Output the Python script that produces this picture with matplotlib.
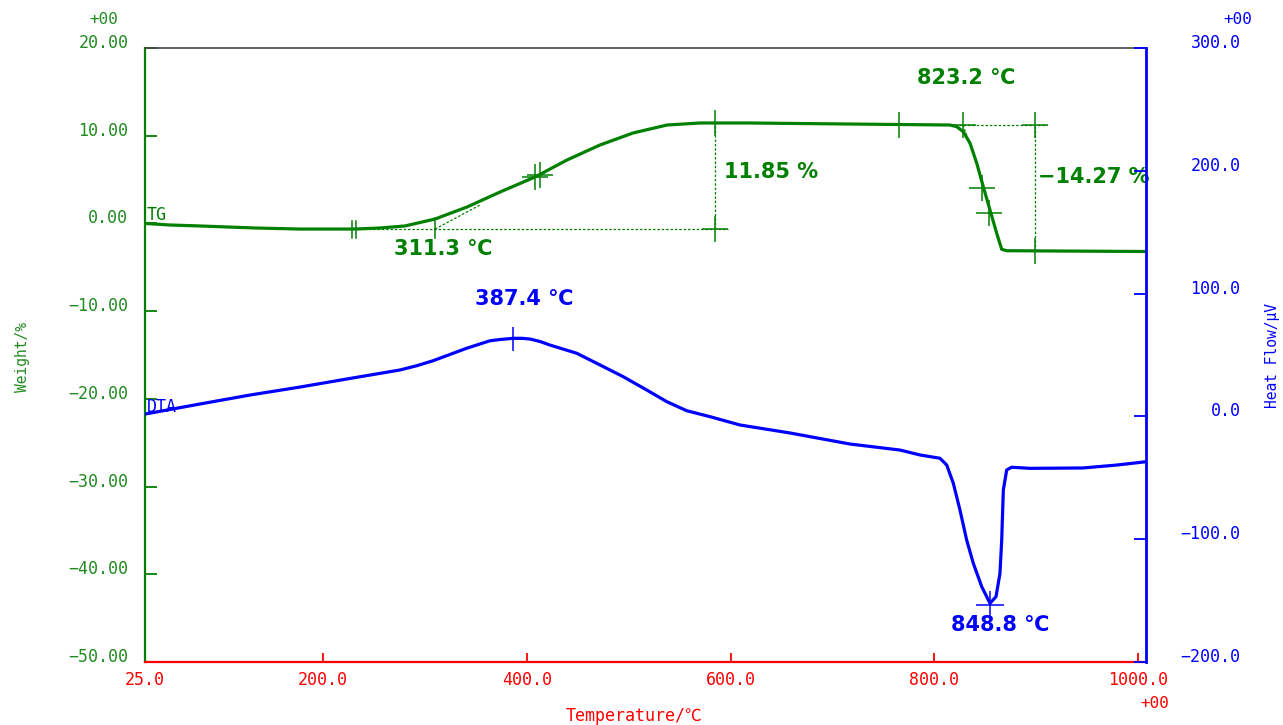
import matplotlib
matplotlib.use('Agg')
import matplotlib.pyplot as plt
from matplotlib.ticker import FuncFormatter

# TG curve (temperature / weight %)
tg_temp = [25, 49.6, 79, 133, 177.2, 231.2, 255.8, 280.3, 309.8, 341.2, 373.6, 408,
           439.4, 471.8, 504.2, 537.6, 570, 584.7, 619, 710.4, 815.5, 822.1, 828.6,
           835.2, 841.8, 848.2, 854.8, 861.4, 866.3, 871.2, 913.7, 1008]
tg_weight = [0.0, -0.18, -0.29, -0.52, -0.64, -0.64, -0.52, -0.29, 0.5, 1.87, 3.58, 5.29,
             7.23, 8.94, 10.31, 11.22, 11.45, 11.45, 11.45, 11.34, 11.22, 11.03, 10.46,
             9.14, 6.86, 4.19, 1.53, -1.13, -2.95, -3.11, -3.14, -3.2]

# DTA curve (temperature / heat flow uV)
dta_temp = [25, 79, 128.1, 177.2, 226.3, 275.4, 292, 308.1, 340.9, 363.8, 373.6, 386.7,
            395.2, 403.1, 412.9, 422.7, 449, 471.8, 494.7, 517.7, 537.4, 557, 579.8, 609.3,
            658.4, 717.3, 766.4, 786.1, 805.7, 812.3, 818.8, 825.3, 831.9, 838.4, 846.7,
            854.8, 860.7, 864.6, 866.3, 867.9, 871.2, 876.1, 894.1, 946.1, 979.5, 1008]
dta_flow = [1.9, 10.1, 17.4, 23.9, 30.9, 37.8, 41.3, 45.4, 55.5, 61.6, 62.6, 63.6,
            63.6, 63.0, 61.0, 58.1, 51.4, 41.9, 32.3, 21.5, 12.0, 4.6, -0.2, -7.0,
            -13.5, -22.5, -27.4, -31.4, -34.1, -39.6, -54.5, -76.2, -100.7, -119.6, -138.7,
            -152.2, -146.8, -127.8, -100.7, -59.9, -43.6, -41.4, -42.3, -42.0, -39.6, -36.9]

x_ticks = [25, 200, 400, 600, 800, 1000]
w_ticks = [20, 10, 0, -10, -20, -30, -40, -50]
h_ticks = [300, 200, 100, 0, -100, -200]

# analysis marks (weight levels)
step1_low = -0.64
step1_high = 11.45
step2_high = 11.22
step2_low = -3.14

green = '#008000'
lgreen = '#228b22'
blue = '#0000ff'
red = '#ff0000'
mono = ['DejaVu Sans Mono', 'Noto Sans CJK JP']
bold = ['DejaVu Sans', 'Noto Sans CJK JP']


def fmt(nd):
    return FuncFormatter(lambda v, p: f'{v:.{nd}f}'.replace('-', '\u2212'))


fig = plt.figure(figsize=(12.83, 7.25), dpi=100)
ax1 = fig.add_axes([145 / 1283, 63 / 725, 1001 / 1283, 614 / 725])
ax2 = ax1.twinx()

ax1.set_xlim(25, 1008)
ax1.set_ylim(-50, 20)
ax2.set_ylim(-200, 300)

ax1.plot(tg_temp, tg_weight, color=green, lw=2.3, zorder=5)
ax2.plot(dta_temp, dta_flow, color=blue, lw=2.3, zorder=5)

# TG step 1 construction
dot = dict(color=green, lw=0.9, ls=(0, (2, 1.5)))
ax1.plot([231.2, 597.5], [step1_low, step1_low], **dot)
ax1.plot([309.8, 354], [step1_low, 2.1], **dot)
ax1.plot([584.7, 584.7], [step1_low, step1_high], **dot)
cross = dict(color=green, marker='+', ms=19, mew=1.1, ls='none', zorder=6)
ax1.plot([584.7, 584.7, 408, 413], [step1_high, step1_low, 5.29, 5.5], **cross)
ax1.plot([228.3, 228.3], [0.28, -1.66], color=green, lw=1.1)
ax1.plot([232.2, 232.2], [0.28, -1.66], color=green, lw=1.1)
ax1.plot([309.8, 309.8], [0.6, -1.66], color=green, lw=1.1)

# TG step 2 construction
ax1.plot([815.5, 911], [step2_high, step2_high], **dot)
ax1.plot([828.3, 837], [step2_high, 8.4], **dot)
ax1.plot([899, 899], [step2_low, step2_high], **dot)
ax1.plot([765.5, 828.3, 899, 899, 847, 853.5],
         [step2_high, step2_high, step2_high, step2_low, 4.04, 1.19], **cross)

ax1.text(317.6, -2.92, '311.3 \u2103', color=green, fontsize=15, fontweight='bold',
         family=bold, ha='center', va='center')
ax1.text(593.6, 5.86, '11.85 %', color=green, fontsize=15, fontweight='bold',
         family=bold, ha='left', va='center')
ax1.text(831.2, 16.58, '823.2 \u2103', color=green, fontsize=15, fontweight='bold',
         family=bold, ha='center', va='center')
ax1.text(902, 5.29, '\u221214.27 %', color=green, fontsize=15, fontweight='bold',
         family=bold, ha='left', va='center')
ax1.text(27, 0.96, 'TG', color=green, fontsize=12, family=mono, ha='left', va='center')

# DTA peaks
ax2.plot([386.7], [63.3], color=blue, marker='+', ms=17, mew=1.1, zorder=6)
ax2.plot([854.8], [-153.5], color=blue, marker='+', ms=20, mew=1.1, zorder=6)
ax2.text(397.2, 95.7, '387.4 \u2103', color=blue, fontsize=15, fontweight='bold',
         family=bold, ha='center', va='center')
ax2.text(864.6, -169.7, '848.8 \u2103', color=blue, fontsize=15, fontweight='bold',
         family=bold, ha='center', va='center')
ax2.text(27, 7.8, 'DTA', color=blue, fontsize=12, family=mono, ha='left', va='center')

# axes styling
for s in ['left', 'right', 'top', 'bottom']:
    ax2.spines[s].set_visible(False)
ax2.spines['right'].set_visible(True)
ax2.spines['right'].set_color(blue)
ax2.spines['right'].set_linewidth(2)
ax1.spines['right'].set_visible(False)
ax1.spines['left'].set_color(green)
ax1.spines['left'].set_linewidth(1.6)
ax1.spines['bottom'].set_color(red)
ax1.spines['bottom'].set_linewidth(1.6)
ax1.spines['top'].set_color('#444444')
ax1.spines['top'].set_linewidth(1.2)

ax1.set_xticks(x_ticks)
ax1.set_yticks(w_ticks)
ax2.set_yticks(h_ticks)
ax1.xaxis.set_major_formatter(fmt(1))
ax1.yaxis.set_major_formatter(fmt(2))
ax2.yaxis.set_major_formatter(fmt(1))

ax1.tick_params(axis='x', direction='in', length=6.5, width=1.3, color=red,
                labelcolor=red, labelsize=12, pad=6.5)
ax1.tick_params(axis='y', direction='in', length=8.5, width=1.3, color=green,
                labelcolor=lgreen, labelsize=12, pad=12)
ax2.tick_params(axis='y', direction='in', length=8.5, width=1.3, color=blue,
                labelcolor=blue, labelsize=12, pad=68)
for lab in ax1.get_xticklabels() + ax1.get_yticklabels() + ax2.get_yticklabels():
    lab.set_family(mono)
for lab in ax1.get_yticklabels() + ax2.get_yticklabels():
    lab.set_va('baseline')
for lab in ax2.get_yticklabels():
    lab.set_ha('right')

fig.text(22 / 1283, 1 - 357 / 725, 'Weight/%', color=lgreen, fontsize=10.5, family=mono,
         rotation=90, ha='center', va='center')
fig.text(1272 / 1283, 1 - 355 / 725, 'Heat Flow/\u03bcV', color=blue, fontsize=10.5,
         family=mono, rotation=90, ha='center', va='center')
fig.text(634 / 1283, 1 - 716 / 725, 'Temperature/\u2103', color=red, fontsize=12,
         family=mono, ha='center', va='center')
fig.text(104 / 1283, 1 - 20 / 725, '+00', color=lgreen, fontsize=11.5, family=mono,
         ha='center', va='center')
fig.text(1238 / 1283, 1 - 20 / 725, '+00', color=blue, fontsize=11.5, family=mono,
         ha='center', va='center')
fig.text(1155 / 1283, 1 - 703 / 725, '+00', color=red, fontsize=11.5, family=mono,
         ha='center', va='center')

fig.savefig('out.png', dpi=100)
